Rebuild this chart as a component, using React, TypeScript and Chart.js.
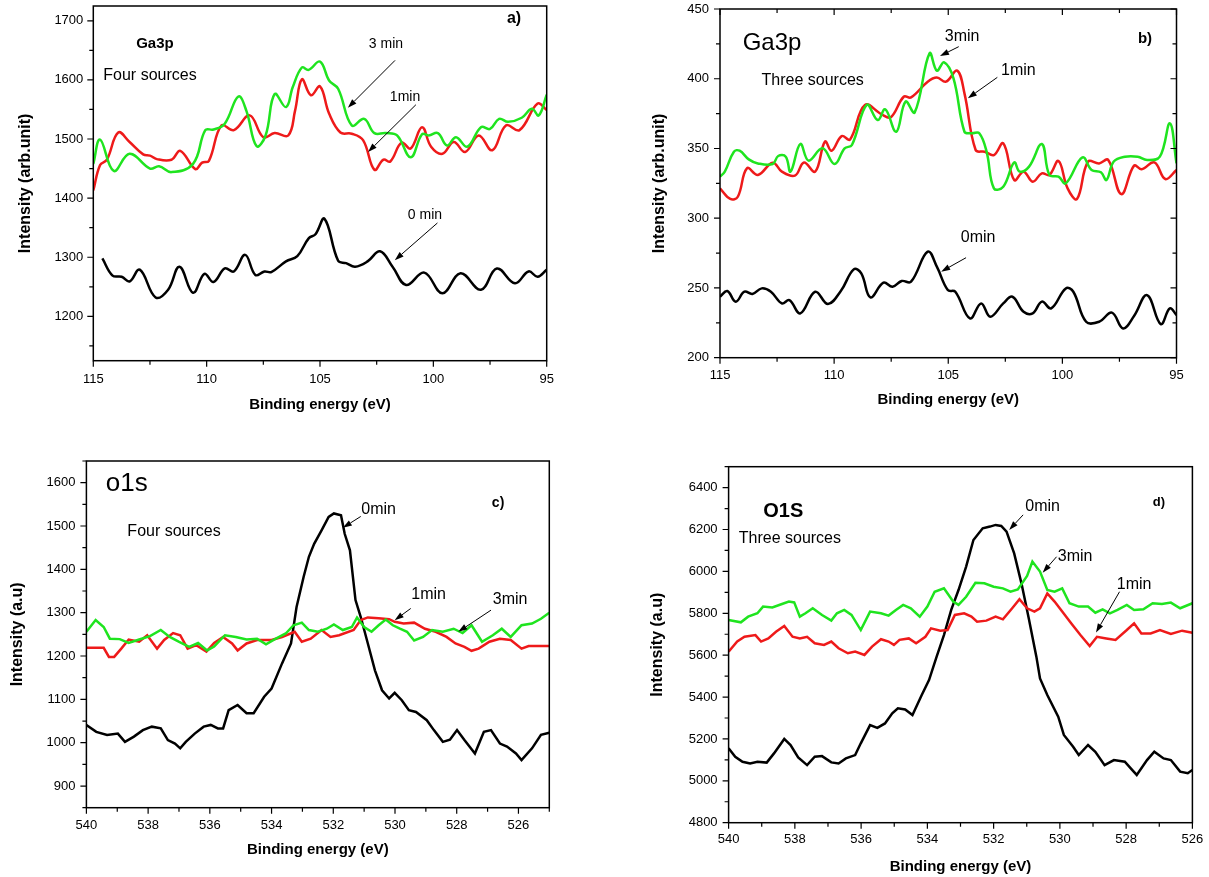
import { useEffect, useRef } from "react"
import { Chart, registerables } from "chart.js"

Chart.register(...registerables)

const FONT = "'Liberation Sans', Arial, Helvetica, sans-serif"
const GREEN = "#1fe41f"
const RED = "#ee1a1a"
const BLACK = "#000000"

// a) Ga3p, four sources
const aX3 = [115.0, 114.7, 114.1, 113.4, 112.5, 112.1, 111.55, 110.6, 110.06, 109.7, 109.2, 108.6, 108.25, 107.8, 107.4, 107.0, 106.5, 106.2, 105.8, 105.5, 105.0, 104.6, 104.2, 103.6, 103.05, 102.6, 102.1, 101.6, 101.0, 100.5, 100.2, 99.8, 99.4, 99.0, 98.5, 97.9, 97.5, 97.1, 96.7, 96.1, 95.66, 95.35, 95.0]
const aY3 = [1458, 1499, 1446, 1475, 1450, 1454, 1444, 1458, 1515, 1516, 1526, 1572, 1548, 1488, 1506, 1576, 1554, 1588, 1621, 1617, 1631, 1599, 1585, 1523, 1534, 1510, 1510, 1506, 1469, 1508, 1506, 1510, 1489, 1503, 1487, 1520, 1517, 1534, 1529, 1536, 1551, 1540, 1575]
const aX1 = [115.0, 114.7, 114.4, 113.9, 113.4, 112.8, 112.5, 112.2, 111.55, 111.16, 110.5, 110.2, 109.9, 109.35, 108.8, 108.1, 107.5, 107.0, 106.4, 106.1, 105.8, 105.4, 105.0, 104.6, 104.1, 103.6, 103.1, 102.6, 102.2, 101.9, 101.4, 101.0, 100.5, 100.1, 99.6, 99.1, 98.6, 98.0, 97.4, 96.8, 96.2, 95.4, 95.0]
const aY1 = [1413, 1456, 1465, 1511, 1495, 1474, 1472, 1466, 1465, 1480, 1449, 1460, 1463, 1523, 1515, 1540, 1503, 1510, 1506, 1548, 1601, 1574, 1589, 1543, 1511, 1509, 1498, 1448, 1465, 1462, 1494, 1484, 1520, 1487, 1475, 1495, 1478, 1506, 1481, 1523, 1515, 1560, 1549]
const aX0 = [114.6, 114.15, 113.75, 113.4, 112.95, 112.25, 111.7, 111.2, 110.6, 110.1, 109.7, 109.2, 108.8, 108.3, 107.85, 107.45, 107.15, 106.5, 106.0, 105.5, 105.2, 104.8, 104.2, 103.85, 103.45, 102.9, 102.35, 101.8, 101.2, 100.4, 99.6, 98.8, 97.9, 97.2, 96.4, 95.8, 95.4, 95.0]
const aY0 = [1298, 1269, 1267, 1259, 1279, 1232, 1245, 1284, 1240, 1272, 1258, 1281, 1276, 1304, 1270, 1276, 1275, 1293, 1302, 1332, 1339, 1365, 1294, 1290, 1284, 1293, 1310, 1284, 1253, 1274, 1239, 1273, 1245, 1281, 1256, 1276, 1267, 1279]
const aXTicks = [115, 110, 105, 100, 95]
const aYTicks = [1200, 1300, 1400, 1500, 1600, 1700]

// b) Ga3p, three sources
const bX3 = [115.0, 114.79, 114.39, 114.14, 113.74, 113.34, 112.69, 112.45, 112.12, 111.91, 111.48, 111.12, 110.51, 109.98, 109.54, 109.22, 108.57, 108.09, 107.76, 107.28, 106.87, 106.47, 105.82, 105.5, 105.18, 104.77, 104.29, 103.97, 103.64, 103.32, 103.0, 102.59, 102.11, 101.87, 101.46, 100.9, 100.57, 100.17, 99.85, 99.12, 98.72, 98.31, 98.07, 97.75, 97.26, 96.7, 96.29, 95.73, 95.29, 95.0]
const bY3 = [329.8, 333.4, 347.7, 348.4, 342.2, 339.3, 338.9, 344.6, 344.1, 333.4, 353.2, 341.3, 350.1, 338.9, 350.1, 352.5, 381.2, 370.4, 378.1, 362, 383.6, 375.9, 418.2, 405.8, 411.8, 400.3, 362, 360.9, 360.9, 347.7, 321.4, 322.6, 340, 333.4, 337, 353.2, 331, 329.8, 325, 343.6, 334.6, 332.9, 327.4, 340.6, 344.1, 344.1, 341.7, 344.1, 368, 339.3]
const bX1 = [115.0, 114.55, 114.22, 113.82, 113.34, 112.69, 112.29, 111.72, 111.32, 110.83, 110.4, 110.11, 109.67, 109.3, 108.65, 107.92, 107.52, 106.95, 106.63, 105.9, 105.5, 105.1, 104.61, 104.29, 103.8, 103.4, 103.0, 102.59, 102.11, 101.7, 101.3, 100.9, 100.57, 100.17, 99.77, 99.36, 98.88, 98.39, 97.99, 97.42, 96.86, 96.53, 95.97, 95.49, 95.0]
const bY1 = [321.4, 313.8, 315.4, 335.8, 331, 339.8, 333.4, 330.5, 340, 333.4, 354.9, 348.4, 358.9, 356.5, 381.2, 374.5, 372.4, 387.1, 386.6, 397.9, 400.8, 397.9, 405.8, 389.5, 348.9, 347.7, 345.3, 353.7, 327.4, 333.4, 326.2, 332.2, 331, 341, 321.4, 313.8, 340.5, 339.3, 341.7, 317.3, 337.7, 335.1, 340, 328.1, 334.6]
const bX0 = [115.0, 114.68, 114.31, 113.93, 113.58, 113.17, 112.77, 112.29, 111.96, 111.48, 110.83, 110.27, 109.7, 109.14, 108.81, 108.41, 107.84, 107.44, 107.04, 106.63, 105.9, 105.5, 105.02, 104.69, 104.05, 103.56, 103.16, 102.59, 102.19, 101.7, 101.3, 100.9, 100.49, 99.85, 99.52, 98.96, 98.39, 97.83, 97.34, 96.86, 96.29, 95.69, 95.29, 95.0]
const bY0 = [243.7, 247.8, 240.2, 247.3, 245.7, 249.7, 247.3, 238.9, 241.3, 231.8, 247.3, 238.5, 248, 263.3, 260.5, 243.3, 253.8, 250.9, 255, 254.5, 276, 265.3, 248.5, 247.3, 228.2, 238.9, 229.4, 238.9, 243.7, 232.9, 231.8, 240.2, 235.4, 249.7, 247.3, 225.8, 225.8, 232.3, 221, 229.9, 244.9, 224.1, 235.4, 230.6]
const bXTicks = [115, 110, 105, 100, 95]
const bYTicks = [200, 250, 300, 350, 400, 450]

// c) O1s, four sources
const cX3 = [540, 539.7, 539.44, 539.24, 538.92, 538.63, 538.29, 537.94, 537.59, 537.3, 537.01, 536.67, 536.38, 536.09, 535.86, 535.51, 535.16, 534.81, 534.47, 534.18, 533.89, 533.54, 533.29, 533.02, 532.79, 532.5, 532.21, 531.98, 531.69, 531.4, 531.23, 531.0, 530.76, 530.53, 530.3, 530.07, 529.84, 529.61, 529.38, 529.09, 528.8, 528.45, 528.1, 527.81, 527.52, 527.18, 526.83, 526.54, 526.25, 525.9, 525.56, 525.27, 525.0]
const cY3 = [1256, 1283, 1267, 1240, 1239, 1230, 1238, 1246, 1260, 1244, 1233, 1221, 1230, 1213, 1222, 1248, 1244, 1238, 1240, 1227, 1239, 1252, 1271, 1277, 1260, 1256, 1263, 1273, 1260, 1267, 1289, 1267, 1256, 1271, 1284, 1271, 1263, 1256, 1236, 1244, 1260, 1256, 1263, 1253, 1271, 1233, 1248, 1263, 1244, 1271, 1275, 1286, 1300]
const cX1 = [540, 539.44, 539.27, 539.1, 538.87, 538.63, 538.29, 538.03, 537.71, 537.48, 537.19, 536.96, 536.72, 536.44, 536.11, 535.86, 535.57, 535.28, 535.1, 534.81, 534.47, 534.0, 533.66, 533.25, 533.02, 532.73, 532.38, 532.09, 531.81, 531.34, 531.11, 530.88, 530.53, 530.19, 530.01, 529.72, 529.38, 529.03, 528.68, 528.33, 528.04, 527.75, 527.52, 527.29, 526.94, 526.6, 526.25, 525.9, 525.67, 525.32, 525.0]
const cY1 = [1219, 1219, 1198, 1198, 1217, 1238, 1233, 1248, 1217, 1237, 1253, 1248, 1217, 1225, 1210, 1230, 1244, 1229, 1213, 1229, 1237, 1237, 1244, 1256, 1233, 1240, 1260, 1244, 1248, 1260, 1283, 1289, 1287, 1285, 1279, 1275, 1277, 1263, 1256, 1244, 1229, 1221, 1212, 1217, 1233, 1240, 1237, 1217, 1223, 1223, 1223]
const cX0 = [540, 539.68, 539.33, 538.98, 538.75, 538.46, 538.17, 537.88, 537.59, 537.36, 537.13, 536.96, 536.78, 536.49, 536.2, 535.97, 535.74, 535.57, 535.39, 535.1, 534.81, 534.58, 534.24, 534.0, 533.66, 533.37, 533.19, 532.96, 532.79, 532.62, 532.38, 532.15, 531.98, 531.75, 531.63, 531.46, 531.28, 531.11, 530.88, 530.65, 530.42, 530.19, 530.01, 529.78, 529.55, 529.32, 528.97, 528.74, 528.45, 528.22, 527.99, 527.75, 527.41, 527.12, 526.89, 526.6, 526.37, 526.08, 525.9, 525.56, 525.27, 525.0]
const cY0 = [1041, 1025, 1018, 1021, 1002, 1014, 1029, 1037, 1033, 1006, 998, 987, 1002, 1021, 1037, 1041, 1033, 1033, 1075, 1087, 1068, 1068, 1106, 1125, 1183, 1229, 1313, 1383, 1429, 1459, 1490, 1521, 1529, 1525, 1482, 1444, 1329, 1290, 1229, 1167, 1121, 1102, 1115, 1098, 1075, 1071, 1052, 1029, 1002, 1007, 1029, 1006, 975, 1025, 1029, 998, 991, 975, 960, 987, 1018, 1023]
const cXTicks = [540, 538, 536, 534, 532, 530, 528, 526]
const cYTicks = [900, 1000, 1100, 1200, 1300, 1400, 1500, 1600]

// d) O1S, three sources
const dX3 = [540, 539.63, 539.41, 539.13, 538.96, 538.68, 538.41, 538.18, 538.02, 537.85, 537.68, 537.46, 537.18, 536.9, 536.73, 536.51, 536.29, 536.01, 535.73, 535.4, 535.17, 534.95, 534.73, 534.5, 534.23, 534.0, 533.78, 533.5, 533.22, 533.06, 532.83, 532.55, 532.28, 532.0, 531.72, 531.49, 531.27, 530.99, 530.83, 530.6, 530.38, 530.16, 529.93, 529.71, 529.43, 529.15, 528.93, 528.71, 528.49, 528.26, 527.98, 527.76, 527.48, 527.2, 526.92, 526.65, 526.37, 526.0]
const dY3 = [5768, 5757, 5784, 5800, 5832, 5828, 5843, 5856, 5852, 5784, 5800, 5824, 5792, 5765, 5800, 5816, 5792, 5720, 5808, 5800, 5789, 5816, 5840, 5824, 5784, 5832, 5903, 5919, 5856, 5840, 5879, 5946, 5943, 5927, 5919, 5903, 5914, 5978, 6047, 5999, 5911, 5903, 5919, 5848, 5832, 5832, 5803, 5819, 5800, 5816, 5840, 5816, 5819, 5848, 5844, 5851, 5824, 5848]
const dX1 = [540, 539.74, 539.52, 539.19, 539.02, 538.8, 538.57, 538.32, 538.07, 537.85, 537.63, 537.4, 537.12, 536.9, 536.68, 536.4, 536.18, 535.9, 535.67, 535.4, 535.17, 535.01, 534.84, 534.56, 534.34, 534.06, 533.89, 533.61, 533.39, 533.17, 532.89, 532.67, 532.5, 532.22, 531.94, 531.72, 531.44, 531.22, 530.99, 530.77, 530.6, 530.38, 530.16, 529.93, 529.66, 529.38, 529.1, 528.88, 528.6, 528.32, 527.98, 527.76, 527.54, 527.26, 526.98, 526.65, 526.31, 526.0]
const dY1 = [5617, 5665, 5688, 5696, 5665, 5680, 5712, 5739, 5688, 5680, 5688, 5657, 5649, 5665, 5633, 5609, 5617, 5601, 5641, 5676, 5665, 5649, 5673, 5680, 5657, 5688, 5728, 5717, 5720, 5792, 5800, 5784, 5760, 5765, 5784, 5771, 5824, 5867, 5824, 5808, 5824, 5895, 5856, 5808, 5752, 5696, 5644, 5688, 5680, 5673, 5720, 5752, 5704, 5704, 5720, 5701, 5717, 5707]
const dX0 = [540, 539.8, 539.58, 539.35, 539.13, 538.85, 538.63, 538.32, 538.13, 537.9, 537.63, 537.4, 537.18, 536.9, 536.68, 536.46, 536.18, 536.01, 535.73, 535.51, 535.28, 535.06, 534.89, 534.67, 534.45, 534.17, 533.95, 533.72, 533.5, 533.28, 533.06, 532.83, 532.61, 532.33, 532.11, 531.94, 531.77, 531.61, 531.38, 531.16, 530.94, 530.71, 530.6, 530.38, 530.05, 529.88, 529.6, 529.43, 529.15, 528.93, 528.65, 528.37, 528.04, 527.82, 527.68, 527.37, 527.15, 526.87, 526.65, 526.37, 526.14, 526.0]
const dY0 = [5155, 5115, 5091, 5083, 5091, 5087, 5131, 5200, 5171, 5112, 5075, 5115, 5118, 5088, 5083, 5107, 5123, 5179, 5266, 5253, 5274, 5322, 5346, 5341, 5314, 5410, 5481, 5593, 5696, 5816, 5911, 6023, 6150, 6206, 6214, 6222, 6217, 6190, 6086, 5943, 5776, 5593, 5489, 5410, 5306, 5219, 5163, 5123, 5171, 5139, 5075, 5099, 5091, 5052, 5028, 5099, 5139, 5107, 5099, 5044, 5036, 5052]
const dXTicks = [540, 538, 536, 534, 532, 530, 528, 526]
const dYTicks = [4800, 5000, 5200, 5400, 5600, 5800, 6000, 6200, 6400]

type Label = { text: string; x: number; y: number; size: number; bold?: boolean }
type Arrow = [number, number, number, number]
type Series = { xs: number[]; ys: number[]; color: string }

type Panel = {
  left: number; top: number; w: number; h: number
  padTop: number; padRight: number; yW: number; xH: number
  xMin: number; xMax: number; yMin: number; yMax: number
  xTicks: number[]; yTicks: number[]; xMinor: number; yMinor: number
  xTickPad: number; yTickPad: number; xTitlePad: number; yTitlePad: number
  yTitle: string; tension: number; mirror: boolean
  series: Series[]; labels: Label[]; arrows: Arrow[]
}

const panels: Panel[] = [
  {
    left: 0, top: 0, w: 604, h: 430, padTop: 6, padRight: 57.3, yW: 93.3, xH: 69.3,
    xMin: 95, xMax: 115, yMin: 1125, yMax: 1725, xTicks: aXTicks, yTicks: aYTicks, xMinor: 2.5, yMinor: 50,
    xTickPad: 10.5, yTickPad: 10, xTitlePad: 16, yTitlePad: 16,
    yTitle: "Intensity (arb.unit)", tension: 0.4, mirror: false,
    series: [{ xs: aX3, ys: aY3, color: GREEN }, { xs: aX1, ys: aY1, color: RED }, { xs: aX0, ys: aY0, color: BLACK }],
    labels: [
      { text: "a)", x: 96.44, y: 1703, size: 16, bold: true },
      { text: "Ga3p", x: 112.28, y: 1661, size: 15, bold: true },
      { text: "Four sources", x: 112.5, y: 1607, size: 16 },
      { text: "3 min", x: 102.09, y: 1661, size: 14 },
      { text: "1min", x: 101.25, y: 1570, size: 14 },
      { text: "0 min", x: 100.37, y: 1371, size: 14 },
    ],
    arrows: [[101.69, 1633, 103.77, 1553], [100.77, 1558, 102.88, 1478], [99.82, 1358, 101.7, 1295]],
  },
  {
    left: 630, top: 0, w: 579, h: 430, padTop: 9, padRight: 32.5, yW: 90, xH: 72.3,
    xMin: 95, xMax: 115, yMin: 200, yMax: 450, xTicks: bXTicks, yTicks: bYTicks, xMinor: 2.5, yMinor: 25,
    xTickPad: 10, yTickPad: 11, xTitlePad: 21, yTitlePad: 20,
    yTitle: "Intensity (arb.unit)", tension: 0.4, mirror: true,
    series: [{ xs: bX3, ys: bY3, color: GREEN }, { xs: bX1, ys: bY1, color: RED }, { xs: bX0, ys: bY0, color: BLACK }],
    labels: [
      { text: "b)", x: 96.38, y: 428.5, size: 15, bold: true },
      { text: "Ga3p", x: 112.72, y: 425.6, size: 24 },
      { text: "Three sources", x: 110.94, y: 399, size: 16 },
      { text: "3min", x: 104.39, y: 430, size: 16 },
      { text: "1min", x: 101.93, y: 405.8, size: 16 },
      { text: "0min", x: 103.69, y: 286, size: 16 },
    ],
    arrows: [[104.54, 423, 105.36, 416.3], [102.85, 401, 104.14, 386], [104.22, 271.7, 105.31, 261.7]],
  },
  {
    left: 0, top: 440, w: 604, h: 437, padTop: 21, padRight: 54.7, yW: 86.4, xH: 69.3,
    xMin: 525, xMax: 540, yMin: 850, yMax: 1650, xTicks: cXTicks, yTicks: cYTicks, xMinor: 1, yMinor: 50,
    xTickPad: 10, yTickPad: 11, xTitlePad: 18, yTitlePad: 7.5,
    yTitle: "Intensity (a.u)", tension: 0, mirror: false,
    series: [{ xs: cX3, ys: cY3, color: GREEN }, { xs: cX1, ys: cY1, color: RED }, { xs: cX0, ys: cY0, color: BLACK }],
    labels: [
      { text: "o1s", x: 538.69, y: 1598, size: 26 },
      { text: "c)", x: 526.66, y: 1552, size: 14, bold: true },
      { text: "Four sources", x: 537.16, y: 1488, size: 16 },
      { text: "0min", x: 530.53, y: 1538.5, size: 16 },
      { text: "1min", x: 528.91, y: 1342.6, size: 16 },
      { text: "3min", x: 526.27, y: 1331, size: 16 },
    ],
    arrows: [[531.11, 1522, 531.69, 1496], [529.49, 1309.7, 530.01, 1282.7], [526.89, 1305.8, 527.95, 1255.8]],
  },
  {
    left: 630, top: 440, w: 579, h: 437, padTop: 26.7, padRight: 16.6, yW: 98.6, xH: 54.3,
    xMin: 526, xMax: 540, yMin: 4800, yMax: 6500, xTicks: dXTicks, yTicks: dYTicks, xMinor: 1, yMinor: 100,
    xTickPad: 9, yTickPad: 11, xTitlePad: 1.3, yTitlePad: 18,
    yTitle: "Intensity (a.u)", tension: 0, mirror: false,
    series: [{ xs: dX3, ys: dY3, color: GREEN }, { xs: dX1, ys: dY1, color: RED }, { xs: dX0, ys: dY0, color: BLACK }],
    labels: [
      { text: "d)", x: 527.01, y: 6328, size: 13, bold: true },
      { text: "O1S", x: 538.35, y: 6285, size: 20, bold: true },
      { text: "Three sources", x: 538.15, y: 6158, size: 16 },
      { text: "0min", x: 530.52, y: 6309, size: 16 },
      { text: "3min", x: 529.54, y: 6070, size: 16 },
      { text: "1min", x: 527.76, y: 5935, size: 16 },
    ],
    arrows: [[531.11, 6270, 531.53, 6198], [530.1, 6070, 530.52, 5994], [528.2, 5903, 528.91, 5708]],
  },
]

function steps(min: number, max: number, step: number) {
  const out: number[] = []
  for (let k = Math.ceil(min / step - 1e-9); k * step <= max + 1e-9; k++) out.push(+(k * step).toFixed(6))
  return out
}

function framePlugin(p: Panel) {
  return {
    id: "frame",
    afterDraw(chart: any) {
      const { ctx, chartArea: a, scales } = chart
      const xs = scales.x
      const ys = scales.y
      ctx.save()
      ctx.strokeStyle = "#000"
      ctx.lineWidth = 1.5
      ctx.strokeRect(a.left, a.top, a.right - a.left, a.bottom - a.top)

      // tick marks, major and minor
      ctx.lineWidth = 1.2
      ctx.beginPath()
      for (const v of steps(p.xMin, p.xMax, p.xMinor)) {
        const px = xs.getPixelForValue(v)
        const len = p.xTicks.some((t) => Math.abs(t - v) < 1e-6) ? 6 : 4
        ctx.moveTo(px, a.bottom)
        ctx.lineTo(px, a.bottom + len)
        if (p.mirror) {
          ctx.moveTo(px, a.top)
          ctx.lineTo(px, a.top + len)
        }
      }
      for (const v of steps(p.yMin, p.yMax, p.yMinor)) {
        const py = ys.getPixelForValue(v)
        const len = p.yTicks.some((t) => Math.abs(t - v) < 1e-6) ? 6 : 4
        ctx.moveTo(a.left - len, py)
        ctx.lineTo(a.left, py)
        if (p.mirror) {
          ctx.moveTo(a.right - len, py)
          ctx.lineTo(a.right, py)
        }
      }
      ctx.stroke()

      // arrows
      ctx.fillStyle = "#000"
      ctx.lineWidth = 1
      for (const [x1, y1, x2, y2] of p.arrows) {
        const sx = xs.getPixelForValue(x1)
        const sy = ys.getPixelForValue(y1)
        const ex = xs.getPixelForValue(x2)
        const ey = ys.getPixelForValue(y2)
        const ang = Math.atan2(ey - sy, ex - sx)
        const hl = 9
        const hw = 3
        const bx = ex - hl * Math.cos(ang)
        const by = ey - hl * Math.sin(ang)
        ctx.beginPath()
        ctx.moveTo(sx, sy)
        ctx.lineTo(bx, by)
        ctx.stroke()
        ctx.beginPath()
        ctx.moveTo(ex, ey)
        ctx.lineTo(bx + hw * Math.sin(ang), by - hw * Math.cos(ang))
        ctx.lineTo(bx - hw * Math.sin(ang), by + hw * Math.cos(ang))
        ctx.closePath()
        ctx.fill()
      }

      // text annotations
      ctx.textAlign = "center"
      ctx.textBaseline = "middle"
      for (const l of p.labels) {
        ctx.font = `${l.bold ? "bold " : ""}${l.size}px ${FONT}`
        ctx.fillText(l.text, xs.getPixelForValue(l.x), ys.getPixelForValue(l.y))
      }
      ctx.restore()
    },
  }
}

function PanelChart({ p }: { p: Panel }) {
  const canvasRef = useRef<HTMLCanvasElement>(null)

  useEffect(() => {
    if (!canvasRef.current) return
    const tickFont = { family: FONT, size: 13 }
    const chart = new Chart(canvasRef.current, {
      type: "line",
      data: {
        datasets: p.series.map((s) => ({
          data: s.xs.map((x, i) => ({ x, y: s.ys[i] })),
          borderColor: s.color,
          borderWidth: 2.5,
          pointRadius: 0,
          tension: p.tension,
          fill: false,
        })),
      },
      options: {
        animation: false,
        responsive: false,
        events: [],
        layout: { padding: { left: 0, top: p.padTop, right: p.padRight, bottom: 0 } },
        plugins: { legend: { display: false }, tooltip: { enabled: false } },
        scales: {
          x: {
            type: "linear",
            reverse: true,
            min: p.xMin,
            max: p.xMax,
            afterBuildTicks: (s: any) => {
              s.ticks = p.xTicks.map((v) => ({ value: v }))
            },
            afterFit: (s: any) => {
              s.height = p.xH
              s.paddingLeft = 0
              s.paddingRight = 0
            },
            grid: { display: false, drawTicks: false },
            border: { display: false },
            ticks: { padding: p.xTickPad, font: tickFont, color: "#000", maxRotation: 0, autoSkip: false, callback: (v: any) => String(v) },
            title: {
              display: true,
              text: "Binding energy (eV)",
              color: "#000",
              font: { family: FONT, size: 15, weight: "bold" },
              padding: { top: 0, bottom: p.xTitlePad },
            },
          },
          y: {
            type: "linear",
            min: p.yMin,
            max: p.yMax,
            afterBuildTicks: (s: any) => {
              s.ticks = p.yTicks.map((v) => ({ value: v }))
            },
            afterFit: (s: any) => {
              s.width = p.yW
              s.paddingTop = 0
              s.paddingBottom = 0
            },
            grid: { display: false, drawTicks: false },
            border: { display: false },
            ticks: { padding: p.yTickPad, font: tickFont, color: "#000", autoSkip: false, callback: (v: any) => String(v) },
            title: {
              display: true,
              text: p.yTitle,
              color: "#000",
              font: { family: FONT, size: 16, weight: "bold" },
              padding: { top: p.yTitlePad, bottom: 0 },
            },
          },
        },
      },
      plugins: [framePlugin(p)],
    } as any)

    return () => {
      chart.destroy()
    }
  }, [p])

  return (
    <canvas
      ref={canvasRef}
      width={p.w}
      height={p.h}
      style={{ position: "absolute", left: p.left, top: p.top, width: p.w, height: p.h }}
    />
  )
}

export default function App() {
  return (
    <div style={{ position: "absolute", left: 0, top: 0, width: 1209, height: 877, background: "#fff", overflow: "hidden" }}>
      {panels.map((p, i) => (
        <PanelChart key={i} p={p} />
      ))}
    </div>
  )
}
